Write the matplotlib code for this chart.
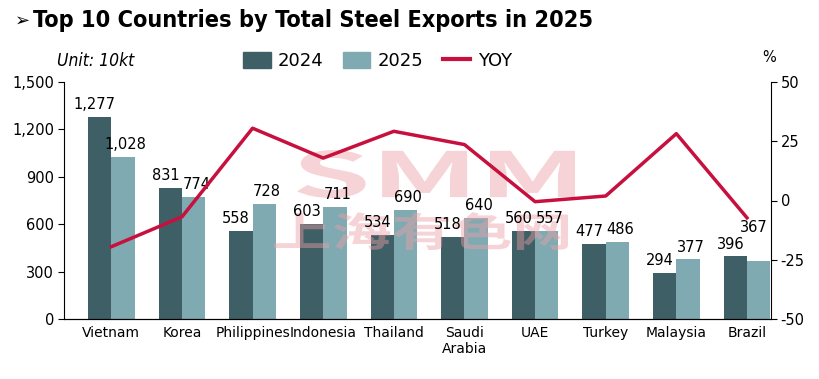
import numpy as np
import matplotlib.pyplot as plt
from matplotlib.lines import Line2D
from matplotlib.patches import Patch, PathPatch
from matplotlib.textpath import TextPath
from matplotlib.font_manager import FontProperties
from matplotlib.transforms import Affine2D

plt.rcParams['font.family'] = ['DejaVu Sans']
plt.rcParams['axes.unicode_minus'] = False

countries = ['Vietnam', 'Korea', 'Philippines', 'Indonesia', 'Thailand',
             'Saudi\nArabia', 'UAE', 'Turkey', 'Malaysia', 'Brazil']
exp_2024 = [1277, 831, 558, 603, 534, 518, 560, 477, 294, 396]
exp_2025 = [1028, 774, 728, 711, 690, 640, 557, 486, 377, 367]
yoy = [-19.5, -6.9, 30.5, 17.9, 29.2, 23.6, -0.5, 1.9, 28.2, -7.3]

c24 = '#3d5f65'
c25 = '#7faab2'
cline = '#c8103e'

fig = plt.figure(figsize=(8.19, 3.79), dpi=100)
ax = fig.add_axes([64 / 819, 60 / 379, 707 / 819, 237 / 379])
x = np.arange(len(countries))
w = 0.33

ax.bar(x - w / 2, exp_2024, w, color=c24, zorder=2)
ax.bar(x + w / 2, exp_2025, w, color=c25, zorder=2)
for i, (a, b) in enumerate(zip(exp_2024, exp_2025)):
    ax.text(x[i] - w / 2 - 0.07, a + 30, f'{a:,}', ha='center', va='bottom',
            fontsize=10.5, zorder=4)
    # the last 2025 label sits higher in the original, clear of the bar pair
    if i == len(countries) - 1:
        dx, dy = -0.07, 165
    else:
        dx, dy = 0.04, 30
    ax.text(x[i] + w / 2 + dx, b + dy, f'{b:,}', ha='center', va='bottom',
            fontsize=10.5, zorder=4)

ax.set_xlim(-0.67, 9.34)
ax.set_ylim(0, 1500)
ax.set_yticks(range(0, 1501, 300))
ax.set_yticklabels([f'{v:,}' for v in range(0, 1501, 300)])
ax.set_xticks(x)
ax.set_xticklabels(countries, fontsize=10, linespacing=1.15)
ax.tick_params(axis='x', length=0, pad=5)
ax.tick_params(axis='y', labelsize=10.5, length=4, direction='out', pad=3)
ax.spines['top'].set_visible(False)
ax.spines['right'].set_visible(False)


# SMM watermark, stretched to its box (pixels)
def watermark(s, x0, y0, x1, y1):
    path = TextPath((0, 0), s, size=1,
                    prop=FontProperties(family=['Noto Sans CJK SC', 'DejaVu Sans'],
                                        weight='bold'))
    ext = path.get_extents()
    tr = (Affine2D().translate(-ext.x0, -ext.y0)
          .scale((x1 - x0) / ext.width, (y1 - y0) / ext.height)
          .translate(x0, 379 - y1))
    ax.add_patch(PathPatch(tr.transform_path(path), transform=None,
                           facecolor='#ec9fa5', edgecolor='none', alpha=0.45,
                           zorder=3, clip_on=False))


watermark('SMM', 297, 150, 575, 198)
watermark('上海有色网', 274, 212, 568, 250)

ax2 = ax.twinx()
ax2.plot(x, yoy, color=cline, lw=2.5, zorder=3)
ax2.set_ylim(-50, 50)
ax2.set_yticks([-50, -25, 0, 25, 50])
ax2.tick_params(axis='y', labelsize=10.5, length=4, pad=3)
ax2.spines['top'].set_visible(False)
ax2.spines['left'].set_visible(False)

fig.text(15 / 819, 0.945, '➢', fontsize=13, va='center', ha='left')
fig.text(33 / 819, 0.945, 'Top 10 Countries by Total Steel Exports in 2025', fontsize=16.8,
         fontweight='bold', fontstretch='condensed', va='center', ha='left')
fig.text(57 / 819, 0.84, 'Unit: 10kt', fontsize=12.5, style='italic',
         fontstretch='condensed', va='center', ha='left')
fig.text(769 / 819, 0.847, '%', fontsize=10.5, va='center', ha='center')

handles = [Patch(color=c24, label='2024'), Patch(color=c25, label='2025'),
           Line2D([0], [0], color=cline, lw=3, label='YOY')]
fig.legend(handles=handles, loc='center', bbox_to_anchor=(0.461, 0.84), ncol=3,
           frameon=False, fontsize=13, handlelength=1.5, handleheight=1.0,
           columnspacing=1.1, handletextpad=0.4, borderpad=0)

fig.savefig('out.png', dpi=100)
